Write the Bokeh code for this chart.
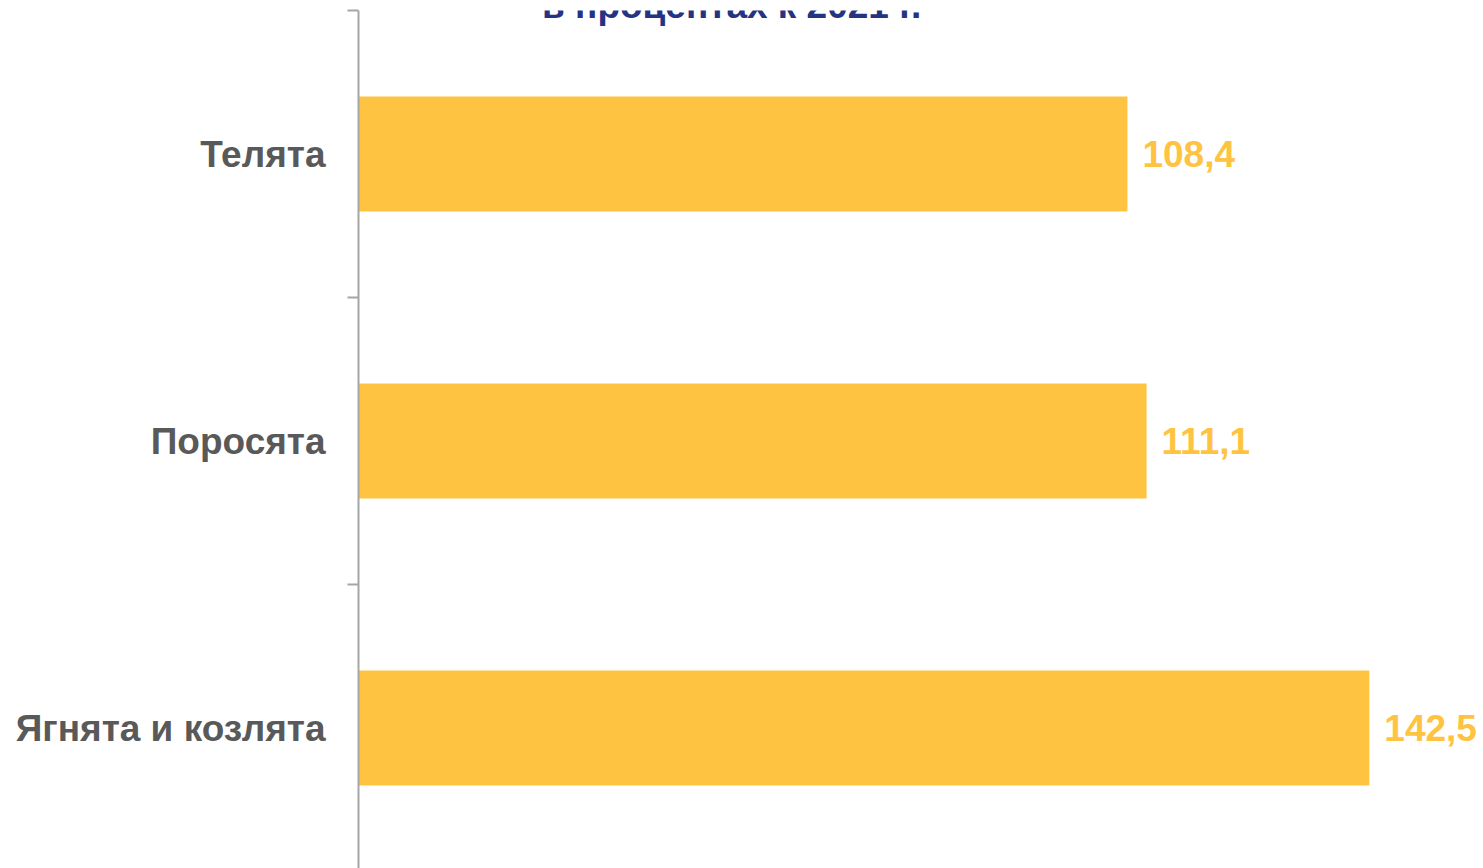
from bokeh.plotting import figure
from bokeh.models import FixedTicker, Label, Range1d, ColumnDataSource
from bokeh.core.properties import value
from bokeh.embed import file_html
from bokeh.resources import INLINE

categories = ["Телята", "Поросята", "Ягнята и козлята"]
values = [108.4, 111.1, 142.5]
value_labels = ["108,4", "111,1", "142,5"]
title_text = "в процентах к 2021 г."

n = len(categories)
ypos = [n - 0.5 - i for i in range(n)]

p = figure(width=1483, height=868, output_backend="svg", toolbar_location=None,
           x_range=Range1d(0, 158.6), y_range=Range1d(0.0105, 3.0),
           min_border_left=358, min_border_right=0, min_border_top=10, min_border_bottom=0)
p.outline_line_color = None
p.grid.visible = False
p.xaxis.visible = False

src = ColumnDataSource(dict(y=ypos, v=values, lab=value_labels, cat=categories))
p.hbar(y="y", right="v", left=0, height=0.4, source=src,
       fill_color="#FFC342", line_color=None)
p.text(x="v", y="y", text="lab", source=src, x_offset=15,
       text_font=value("Liberation Sans"), text_font_style="bold",
       text_font_size="37px", text_color="#FFC342",
       text_baseline="middle", text_align="left")

ax = p.yaxis[0]
ax.ticker = FixedTicker(ticks=ypos, minor_ticks=[0, 1, 2, 3])
ax.major_label_overrides = {y: c for y, c in zip(ypos, categories)}
ax.major_tick_out = 0
ax.major_tick_in = 0
ax.minor_tick_out = 11
ax.minor_tick_in = 0
ax.minor_tick_line_color = "#A6A6A6"
ax.minor_tick_line_width = 2
ax.axis_line_color = "#A6A6A6"
ax.axis_line_width = 2
ax.major_label_standoff = 22
ax.major_label_text_font = "Liberation Sans"
ax.major_label_text_font_style = "bold"
ax.major_label_text_font_size = "37px"
ax.major_label_text_color = "#595959"

p.add_layout(Label(x=52.6, y=3.016, text=title_text, text_align="center",
                   text_baseline="alphabetic", text_font="Liberation Sans",
                   text_font_style="bold", text_font_size="37px",
                   text_color="#253383"))

open("out.html", "w").write(file_html(p, INLINE))
